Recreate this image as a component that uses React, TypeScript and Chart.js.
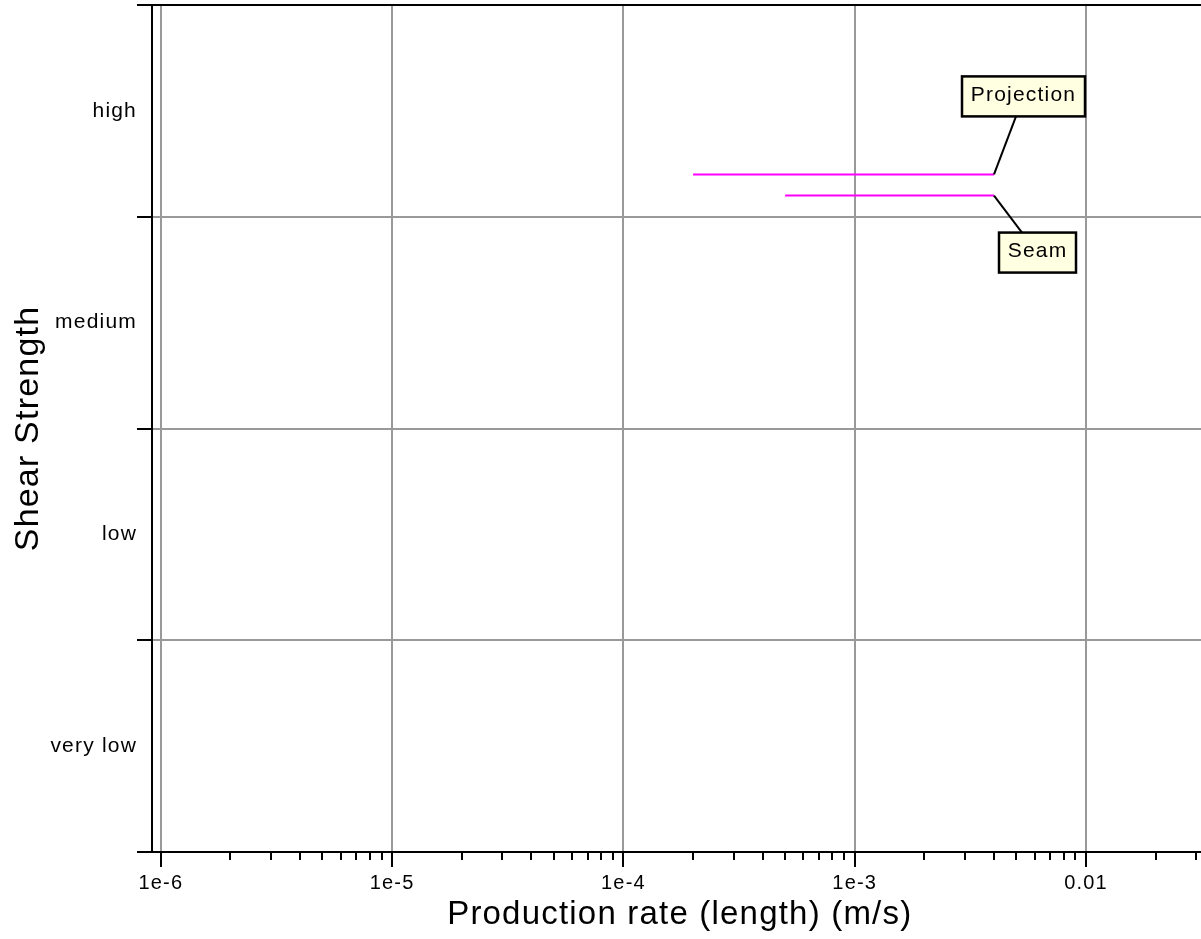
import React, { useEffect, useRef } from 'react';
import { Chart, registerables } from 'chart.js';

Chart.register(...registerables);

// ---------- data ----------
const categories = ['very low', 'low', 'medium', 'high'];
const seriesNames = ['Projection', 'Seam'];
const projectionX = [2e-4, 4e-3];
const projectionY = [3.2, 3.2];
const seamX = [5e-4, 4e-3];
const seamY = [3.1, 3.1];

const xMin = 9.16e-7;
const xMax = 0.0335;
const xMajorTicks = [1e-6, 1e-5, 1e-4, 1e-3, 1e-2];
const xTickLabels = ['1e-6', '1e-5', '1e-4', '1e-3', '0.01'];
const xMinorTicks = [
  2e-6, 3e-6, 4e-6, 5e-6, 6e-6, 7e-6, 8e-6, 9e-6,
  2e-5, 3e-5, 4e-5, 5e-5, 6e-5, 7e-5, 8e-5, 9e-5,
  2e-4, 3e-4, 4e-4, 5e-4, 6e-4, 7e-4, 8e-4, 9e-4,
  2e-3, 3e-3, 4e-3, 5e-3, 6e-3, 7e-3, 8e-3, 9e-3,
  2e-2, 3e-2,
];
const yTickValues = [0, 0.5, 1, 1.5, 2, 2.5, 3, 3.5, 4];
const yTickLabels = ['', categories[0], '', categories[1], '', categories[2], '', categories[3], ''];

const xTitle = 'Production rate (length) (m/s)';
const yTitle = 'Shear Strength';

// ---------- styling ----------
const FONT = '"Liberation Sans", Arial, Helvetica, sans-serif';
const LINE_COLOR = '#FF00FF';
const GRID_COLOR = '#999999';
const CALLOUTS = [
  { dx: 29.5, dy: -78, w: 123, h: 40, lx: 22 },
  { dx: 43.5, dy: 57, w: 77, h: 40, lx: 28 },
];

const decorPlugin = {
  id: 'decor',
  beforeDraw(chart: any) {
    chart.ctx.letterSpacing = '1.2px';
  },
  afterDraw(chart: any) {
    const { ctx, chartArea } = chart;
    const xs = chart.scales.x;
    ctx.save();
    ctx.strokeStyle = '#000';
    ctx.lineWidth = 2;
    ctx.beginPath();
    ctx.moveTo(chartArea.left - 1, chartArea.top);
    ctx.lineTo(chartArea.right, chartArea.top);
    for (const v of xMinorTicks) {
      const px = Math.round(xs.getPixelForValue(v));
      if (px < chartArea.left || px > chartArea.right) continue;
      ctx.moveTo(px, chartArea.bottom);
      ctx.lineTo(px, chartArea.bottom + 8);
    }
    ctx.stroke();

    // callout labels
    chart.data.datasets.forEach((ds: any, i: number) => {
      const meta = chart.getDatasetMeta(i);
      const pt = meta.data[meta.data.length - 1];
      const c = CALLOUTS[i];
      const ax = pt.x;
      const ay = pt.y;
      const cx = ax + c.dx;
      const cy = ay + c.dy;
      const edgeY = c.dy < 0 ? cy + c.h / 2 : cy - c.h / 2;
      ctx.lineWidth = 2;
      ctx.strokeStyle = '#000';
      ctx.beginPath();
      ctx.moveTo(ax, ay);
      ctx.lineTo(ax + c.lx, edgeY);
      ctx.stroke();
      ctx.fillStyle = '#FFFFE1';
      ctx.fillRect(cx - c.w / 2, cy - c.h / 2, c.w, c.h);
      ctx.lineWidth = 2.5;
      ctx.strokeRect(cx - c.w / 2, cy - c.h / 2, c.w, c.h);
      ctx.fillStyle = '#000';
      ctx.font = `21px ${FONT}`;
      ctx.textAlign = 'center';
      ctx.textBaseline = 'middle';
      ctx.fillText(ds.label, cx, cy - 1);
    });
    ctx.restore();
    ctx.letterSpacing = '0px';
  },
};

export default function App() {
  const ref = useRef<HTMLCanvasElement>(null);

  useEffect(() => {
    const canvas = ref.current;
    if (!canvas) return;
    const chart = new Chart(canvas, {
      type: 'line',
      data: {
        datasets: [
          {
            label: seriesNames[0],
            data: projectionX.map((x, i) => ({ x, y: projectionY[i] })),
            borderColor: LINE_COLOR,
            backgroundColor: LINE_COLOR,
            borderWidth: 2,
            pointRadius: 0,
            fill: false,
          },
          {
            label: seriesNames[1],
            data: seamX.map((x, i) => ({ x, y: seamY[i] })),
            borderColor: LINE_COLOR,
            backgroundColor: LINE_COLOR,
            borderWidth: 2,
            pointRadius: 0,
            fill: false,
          },
        ],
      },
      options: {
        responsive: false,
        animation: false,
        events: [],
        layout: { padding: { left: 0, top: 5, right: 2.5, bottom: 0 } },
        plugins: {
          legend: { display: false },
          tooltip: { enabled: false },
          title: { display: false },
        },
        elements: { line: { tension: 0, borderCapStyle: 'butt' } },
        scales: {
          x: {
            type: 'logarithmic',
            position: 'bottom',
            bounds: 'data',
            min: xMin,
            max: xMax,
            afterBuildTicks: (s: any) => {
              s.ticks = xMajorTicks.map((v) => ({ value: v }));
            },
            afterFit: (s: any) => {
              s.height = 87;
              s.paddingLeft = 0;
              s.paddingRight = 0;
            },
            ticks: {
              autoSkip: false,
              maxRotation: 0,
              minRotation: 0,
              padding: 4,
              color: '#000',
              font: { family: FONT, size: 20 },
              callback: (_v: any, i: number) => xTickLabels[i],
            },
            grid: {
              color: GRID_COLOR,
              lineWidth: 2,
              tickColor: '#000',
              tickWidth: 2,
              tickLength: 15,
              drawTicks: true,
            },
            border: { display: true, color: '#000', width: 2 },
            title: {
              display: true,
              text: xTitle,
              color: '#000',
              font: { family: FONT, size: 33 },
              padding: { top: 0, bottom: 4 },
            },
          },
          y: {
            type: 'linear',
            position: 'left',
            bounds: 'data',
            min: 0,
            max: 4,
            afterBuildTicks: (s: any) => {
              s.ticks = yTickValues.map((v) => ({ value: v }));
            },
            afterFit: (s: any) => {
              s.width = 152;
              s.paddingTop = 0;
              s.paddingBottom = 0;
            },
            ticks: {
              autoSkip: false,
              padding: 0,
              color: '#000',
              font: { family: FONT, size: 21 },
              callback: (_v: any, i: number) => yTickLabels[i],
            },
            grid: {
              color: (c: any) =>
                Number.isInteger(c.tick?.value) ? GRID_COLOR : 'rgba(0,0,0,0)',
              lineWidth: 2,
              tickColor: (c: any) =>
                Number.isInteger(c.tick?.value) ? '#000' : 'rgba(0,0,0,0)',
              tickWidth: 2,
              tickLength: 15,
              drawTicks: true,
            },
            border: { display: true, color: '#000', width: 2 },
            title: {
              display: true,
              text: yTitle,
              color: '#000',
              font: { family: FONT, size: 34 },
              padding: { top: 8, bottom: 0 },
            },
          },
        },
      },
      plugins: [decorPlugin],
    } as any);
    return () => chart.destroy();
  }, []);

  return (
    <div
      style={{
        position: 'fixed',
        left: 0,
        top: 0,
        width: 1201,
        height: 939,
        overflow: 'hidden',
        background: '#fff',
      }}
    >
      <canvas
        ref={ref}
        width={1210}
        height={939}
        style={{ display: 'block', width: 1210, height: 939 }}
      />
    </div>
  );
}
